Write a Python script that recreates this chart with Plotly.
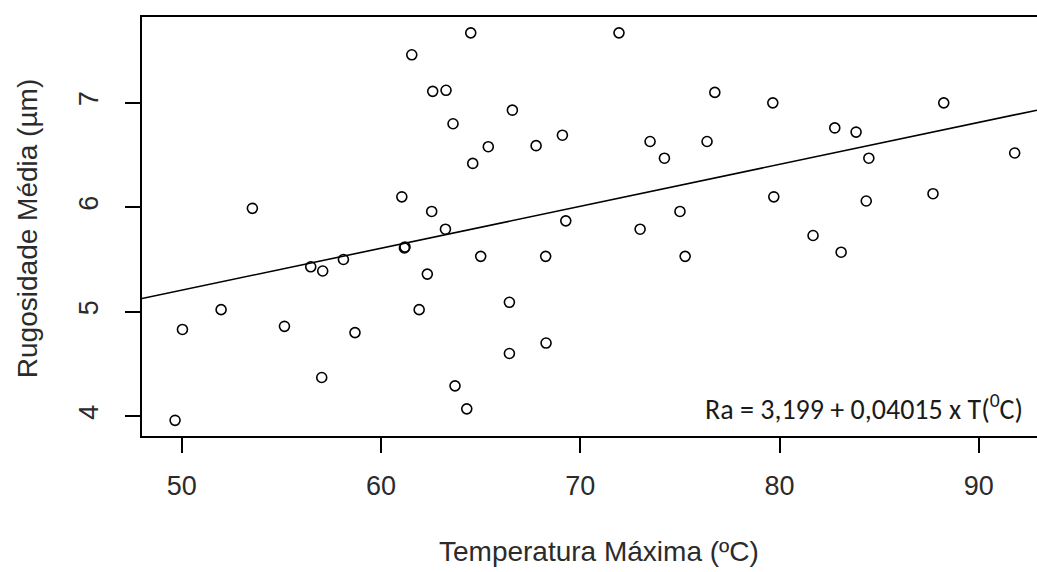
import plotly.graph_objects as go

# Data
temp_max = [49.66, 50.03, 51.97, 53.54, 55.15, 56.47, 57.07, 57.02, 58.11, 58.69,
            61.04, 61.17, 61.20, 61.54, 61.91, 62.32, 62.54, 62.59, 63.26, 63.23,
            63.61, 63.71, 64.30, 64.50, 64.60, 65.00, 65.38, 66.44, 66.44, 66.59,
            67.78, 68.26, 68.28, 69.10, 69.27, 71.94, 73.00, 73.50, 74.22, 75.00,
            75.26, 76.36, 76.75, 79.66, 79.71, 81.68, 82.77, 83.09, 83.84, 84.48,
            84.35, 87.70, 88.24, 91.80]
rugosidade = [3.96, 4.83, 5.02, 5.99, 4.86, 5.43, 5.39, 4.37, 5.50, 4.80,
              6.10, 5.61, 5.62, 7.46, 5.02, 5.36, 5.96, 7.11, 7.12, 5.79,
              6.80, 4.29, 4.07, 7.67, 6.42, 5.53, 6.58, 5.09, 4.60, 6.93,
              6.59, 5.53, 4.70, 6.69, 5.87, 7.67, 5.79, 6.63, 6.47, 5.96,
              5.53, 6.63, 7.10, 7.00, 6.10, 5.73, 6.76, 5.57, 6.72, 6.47,
              6.06, 6.13, 7.00, 6.52]

intercept = 3.199
slope = 0.04015

x_ticks = [50, 60, 70, 80, 90]
y_ticks = [4, 5, 6, 7]

x_range = [48.0, 92.92]
y_range = [3.81, 7.822]

line_x = x_range
line_y = [intercept + slope * v for v in line_x]

axis_font = dict(family="Liberation Sans, Arial, sans-serif", size=27, color="#2b2b2b")
title_font = dict(family="Liberation Sans, Arial, sans-serif", size=28, color="#2b2b2b")

fig = go.Figure()
fig.add_trace(go.Scatter(
    x=line_x, y=line_y, mode="lines",
    line=dict(color="black", width=1.6), showlegend=False, hoverinfo="skip"))
fig.add_trace(go.Scatter(
    x=temp_max, y=rugosidade, mode="markers",
    marker=dict(symbol="circle-open", size=10, color="black", line=dict(width=1.6)),
    showlegend=False))

fig.update_layout(
    width=1037, height=572,
    margin=dict(l=142, r=0, t=17, b=136),
    paper_bgcolor="white", plot_bgcolor="white",
    xaxis=dict(range=x_range, tickvals=x_ticks, ticks="outside", ticklen=15,
               tickwidth=2, tickcolor="black", showline=True, linewidth=2,
               linecolor="black", mirror=True, showgrid=False, zeroline=False,
               tickfont=axis_font, ticklabelstandoff=10),
    yaxis=dict(range=y_range, tickvals=y_ticks, ticks="outside", ticklen=15,
               tickwidth=2, tickcolor="black", showline=True, linewidth=2,
               linecolor="black", mirror=False, showgrid=False, zeroline=False,
               tickfont=axis_font, tickangle=-90, ticklabelstandoff=16),
    annotations=[
        dict(text="Temperatura Máxima (ºC)", xref="paper", yref="paper",
             x=0.5106, y=-0.2768, xanchor="center", yanchor="middle",
             showarrow=False, font=title_font),
        dict(text="Rugosidade Média (µm)", xref="paper", yref="paper",
             x=-0.1285, y=0.496, xanchor="center", yanchor="middle",
             textangle=-90, showarrow=False, font=title_font),
        dict(text="Ra = 3,199 + 0,04015 x T(<sup>0</sup>C)", xref="paper", yref="paper",
             x=0.9866, y=0.069, xanchor="right", yanchor="middle",
             showarrow=False,
             font=dict(family="Carlito, Lato, sans-serif", size=28, color="#1a1a1a")),
    ],
)

fig.write_html("out.html")
